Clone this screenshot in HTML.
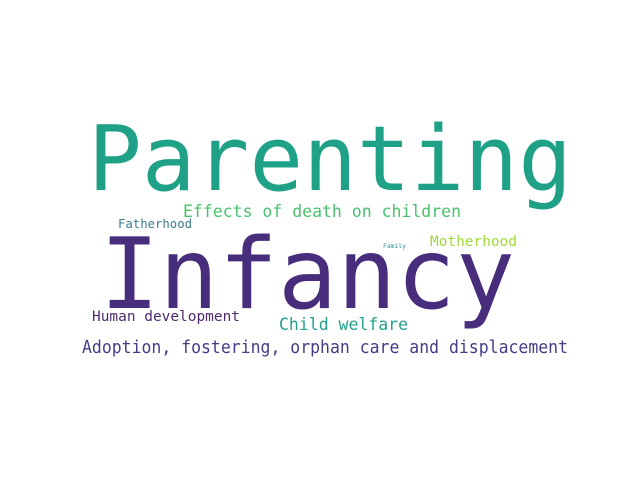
<!DOCTYPE html>
<html><head><meta charset="utf-8"><style>
html,body{margin:0;padding:0;background:#fff;}
svg{display:block}
text{font-family:"DejaVu Sans Mono","Liberation Mono",monospace;}
</style></head><body>
<svg width="640" height="480" viewBox="0 0 640 480">
<rect width="640" height="480" fill="#fff"/>
<text x="88" y="190" font-size="90" fill="#1fa187" textLength="484" lengthAdjust="spacingAndGlyphs">Parenting</text>
<text x="100" y="308" font-size="98" fill="#472d7b" textLength="415" lengthAdjust="spacingAndGlyphs">Infancy</text>
<text x="183" y="217" font-size="16.5" fill="#4ac16d" textLength="278" lengthAdjust="spacingAndGlyphs">Effects of death on children</text>
<text x="118" y="228" font-size="12.3" fill="#3b7c8c" textLength="74" lengthAdjust="spacingAndGlyphs">Fatherhood</text>
<text x="430" y="246" font-size="14.5" fill="#a0da39" textLength="87" lengthAdjust="spacingAndGlyphs">Motherhood</text>
<text x="383" y="248" font-size="6.4" fill="#2c8f8e" textLength="23" lengthAdjust="spacingAndGlyphs">Family</text>
<text x="92" y="321" font-size="14.5" fill="#4f2a6e" textLength="148" lengthAdjust="spacingAndGlyphs">Human development</text>
<text x="279" y="330" font-size="16.5" fill="#25a18e" textLength="129" lengthAdjust="spacingAndGlyphs">Child welfare</text>
<text x="82" y="353" font-size="17.5" fill="#433e85" textLength="486" lengthAdjust="spacingAndGlyphs">Adoption, fostering, orphan care and displacement</text>
</svg>
</body></html>
